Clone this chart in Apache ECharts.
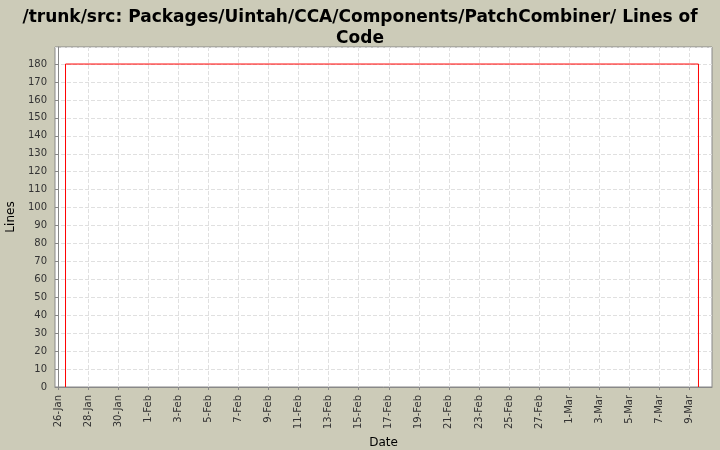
<!DOCTYPE html>
<html>
<head>
<meta charset="UTF-8" />
<script src="https://cdn.jsdelivr.net/npm/echarts@6/dist/echarts.min.js"></script>
<style>body{margin:0;background:#cccbb8}</style>
</head>
<body>
<div id="container" style="width:720px;height:450px"></div>
<script>
// day offsets from 26-Jan
var tickDays = [0,2,4,6,8,10,12,14,16,18,20,22,24,26,28,30,32,34,36,38,40,42];
var tickLabels = ['26-Jan','28-Jan','30-Jan','1-Feb','3-Feb','5-Feb','7-Feb','9-Feb','11-Feb','13-Feb','15-Feb','17-Feb','19-Feb','21-Feb','23-Feb','25-Feb','27-Feb','1-Mar','3-Mar','5-Mar','7-Mar','9-Mar'];
var stepDays = [0.5, 0.5, 42.6, 42.6];
var stepLines = [0, 180, 180, 0];

var data = stepDays.map(function (d, i) { return [d, stepLines[i]]; });
var myChart = echarts.init(document.getElementById('container'));
myChart.setOption({
    backgroundColor: '#cccbb8',
    animation: false,
    title: {
        text: '/trunk/src: Packages/Uintah/CCA/Components/PatchCombiner/ Lines of\nCode',
        left: 'center', top: 2,
        textStyle: {fontFamily: 'DejaVu Sans', fontSize: 17, fontWeight: 'bold', color: '#000', lineHeight: 21}
    },
    grid: {left: 55, right: 8, top: 47, bottom: 63, outerBoundsMode: 'none', containLabel: false,
        show: true, backgroundColor: '#fff', borderColor: '#888', borderWidth: 1},
    xAxis: {
        type: 'value', min: -0.2, max: 43.5,
        name: 'Date', nameLocation: 'middle', nameGap: 43,
        nameTextStyle: {fontFamily: 'DejaVu Sans', fontSize: 12, color: '#000'},
        axisLine: {lineStyle: {color: '#888'}},
        axisTick: {customValues: tickDays, length: 3, lineStyle: {color: '#888'}},
        axisLabel: {
            customValues: tickDays, rotate: 90, fontSize: 10, fontFamily: 'DejaVu Sans', color: '#333',
            formatter: function (v) { return tickLabels[tickDays.indexOf(Math.round(v))] || ''; }
        },
        splitLine: {show: true, lineStyle: {color: '#e0e0e0', type: 'dashed'}}
    },
    yAxis: {
        type: 'value', min: 0, max: 189.5, interval: 10,
        name: 'Lines', nameLocation: 'middle', nameGap: 35,
        nameTextStyle: {fontFamily: 'DejaVu Sans', fontSize: 12, color: '#000'},
        axisLine: {show: true, lineStyle: {color: '#888'}},
        axisTick: {show: true, length: 3, lineStyle: {color: '#888'}},
        axisLabel: {fontSize: 10, fontFamily: 'DejaVu Sans', color: '#333', showMaxLabel: false},
        splitLine: {lineStyle: {color: '#e0e0e0', type: 'dashed'}}
    },
    series: [{
        type: 'line', data: data, symbol: 'none',
        lineStyle: {color: '#ff0000', width: 1}
    }]
});
</script>
</body>
</html>
